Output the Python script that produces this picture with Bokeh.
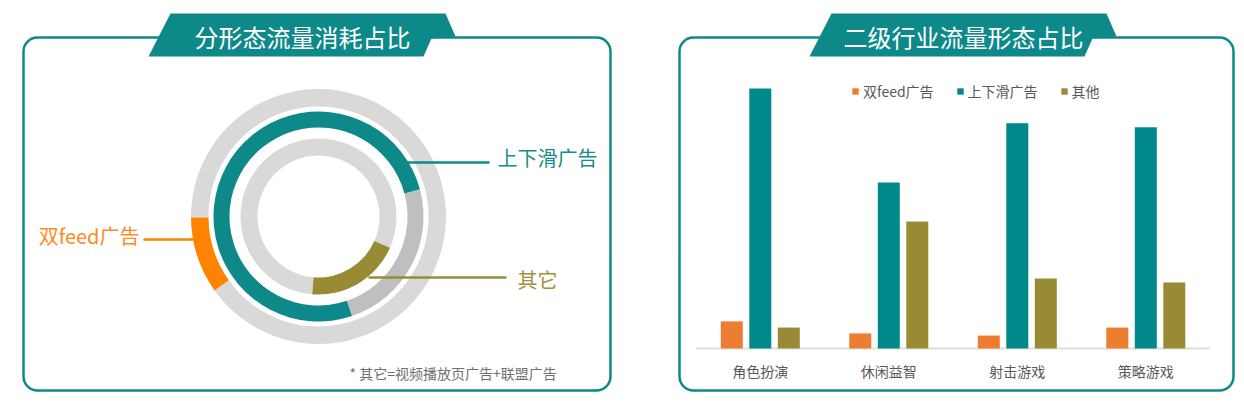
import math
from bokeh.plotting import figure
from bokeh.models import Range1d, ColumnDataSource, Legend, LegendItem
from bokeh.transform import dodge
from bokeh.core.properties import value
from bokeh.embed import file_html
from bokeh.resources import INLINE

# ---------------- data ----------------
left_title = "分形态流量消耗占比"
right_title = "二级行业流量形态占比"
ring_labels = ["双feed广告", "上下滑广告", "其它"]
ring_share = [9.7, 76.0, 19.7]            # % of each ring
footnote = "* 其它=视频播放页广告+联盟广告"

categories = ["角色扮演", "休闲益智", "射击游戏", "策略游戏"]
series_labels = ["双feed广告", "上下滑广告", "其他"]
feed_share = [8.8, 4.9, 4.2, 6.8]
swipe_share = [84.4, 53.9, 73.1, 71.8]
other_share = [6.8, 41.2, 22.7, 21.4]

# ---------------- style / layout ----------------
FONT = "Noto Sans CJK SC"
TEAL = "#0e898a"
BAR_TEAL = "#00898a"
ORANGE_RING = "#ff8300"
ORANGE_BAR = "#ed7d31"
OLIVE = "#998b34"
LABEL_GRAY = "#595959"

W, H = 1240, 400


def Y(py):
    # page pixel row -> data y of the main range
    return H - py


p = figure(width=W, height=H, x_range=Range1d(0, W), y_range=Range1d(0, H),
           output_backend="svg", toolbar_location=None, min_border=0,
           x_axis_location=None, y_axis_location=None)
p.grid.visible = False
p.outline_line_color = None
p.background_fill_color = "white"
p.border_fill_color = "white"

# panel boxes
p.quad(left=[23, 679], right=[610, 1233], top=[Y(37), Y(37)], bottom=[Y(390), Y(390)],
       fill_color=None, line_color=TEAL, line_width=2.5, border_radius=14)

# title banners
bx = [170, 445, 455, 431, 423, 148]
by = [13, 13, 36, 38, 56, 56]
p.patches(xs=[bx, [x + 661 for x in bx]], ys=[[Y(v) for v in by]] * 2,
          fill_color=TEAL, line_color=None)
p.text(x=[302, 963], y=[Y(36), Y(36)], text=[left_title, right_title],
       text_font=value(FONT), text_font_size="24px", text_color="white",
       text_align="center", text_baseline="middle")

# ---------------- donut rings ----------------
CX, CY = 318, Y(216)
ring_inner = [110, 89, 61]
ring_outer = [127.5, 105, 78]
ring_start_deg = [180.5, 15.0, 265.4]
ring_colors = [ORANGE_RING, TEAL, OLIVE]
ring_rest = ["#d9d9d9", "#bfbfbf", "#d9d9d9"]
starts = [math.radians(s) for s in ring_start_deg]
ends = [math.radians(s + v * 3.6) for s, v in zip(ring_start_deg, ring_share)]
rsrc = ColumnDataSource(dict(inner=ring_inner, outer=ring_outer, start=starts, end=ends,
                             rest_end=[s + 2 * math.pi for s in starts],
                             color=ring_colors, rest=ring_rest))
p.annular_wedge(x=CX, y=CY, inner_radius="inner", outer_radius="outer",
                start_angle="end", end_angle="rest_end", fill_color="rest",
                line_color=None, source=rsrc)
p.annular_wedge(x=CX, y=CY, inner_radius="inner", outer_radius="outer",
                start_angle="start", end_angle="end", fill_color="color",
                line_color=None, source=rsrc)

# leader lines + labels
p.segment(x0=[195, 406, 368], y0=[Y(239), Y(162), Y(277)],
          x1=[143, 489, 506], y1=[Y(239), Y(162), Y(277)],
          line_color=ring_colors, line_width=2.5)
p.text(x=[139, 497, 517], y=[Y(235), Y(157), Y(279)], text=ring_labels,
       text_font=value(FONT), text_font_size="20px",
       text_color=["#ff8a1f", "#1a8b8c", "#a39238"],
       text_align=["right", "left", "left"], text_baseline="middle")
p.text(x=[349], y=[Y(372)], text=[footnote], text_font=value(FONT),
       text_font_size="14px", text_color="#707070", text_align="left",
       text_baseline="middle")

# ---------------- grouped bars ----------------
G0, GSTEP = 759.8, 128.5          # pixel x of first group centre, group pitch
cat_s = -G0 / GSTEP
cat_e = cat_s + W / GSTEP
BASE_PY, PX_PER_PCT = 348, 3.08
pct_s = -(Y(BASE_PY)) / PX_PER_PCT
pct_e = (H - Y(BASE_PY)) / PX_PER_PCT
p.extra_x_ranges = {"cat": Range1d(cat_s, cat_e)}
p.extra_y_ranges = {"pct": Range1d(pct_s, pct_e)}

OFF = 28.5 / GSTEP
BW = 22 / GSTEP
bsrc = ColumnDataSource(dict(idx=list(range(len(categories))), cat=categories,
                             feed=feed_share, swipe=swipe_share, other=other_share))

p.segment(x0=[-0.5], x1=[len(categories) - 0.5], y0=[0], y1=[0],
          x_range_name="cat", y_range_name="pct", line_color="#e0e0e0", line_width=2)

r1 = p.vbar(x=dodge("idx", -OFF), top="feed", bottom=0, width=BW, source=bsrc,
            x_range_name="cat", y_range_name="pct", fill_color=ORANGE_BAR, line_color=None)
r2 = p.vbar(x=dodge("idx", 0), top="swipe", bottom=0, width=BW, source=bsrc,
            x_range_name="cat", y_range_name="pct", fill_color=BAR_TEAL, line_color=None)
r3 = p.vbar(x=dodge("idx", OFF), top="other", bottom=0, width=BW, source=bsrc,
            x_range_name="cat", y_range_name="pct", fill_color=OLIVE, line_color=None)

label_pct = (Y(370) - Y(BASE_PY)) / PX_PER_PCT
p.text(x="idx", y=label_pct, text="cat", source=bsrc, x_range_name="cat", y_range_name="pct",
       text_font=value(FONT), text_font_size="14px", text_color=LABEL_GRAY,
       text_align="center", text_baseline="middle")

legend = Legend(items=[LegendItem(label=series_labels[0], renderers=[r1]),
                       LegendItem(label=series_labels[1], renderers=[r2]),
                       LegendItem(label=series_labels[2], renderers=[r3])],
                orientation="horizontal", location=(851, H - 101), padding=0, margin=0,
                spacing=22, glyph_width=8, glyph_height=8, label_standoff=4,
                label_height=14, label_text_font=FONT, label_text_font_size="14px",
                label_text_color=LABEL_GRAY, border_line_color=None,
                background_fill_alpha=0)
p.add_layout(legend)

open("out.html", "w").write(file_html(p, INLINE))
